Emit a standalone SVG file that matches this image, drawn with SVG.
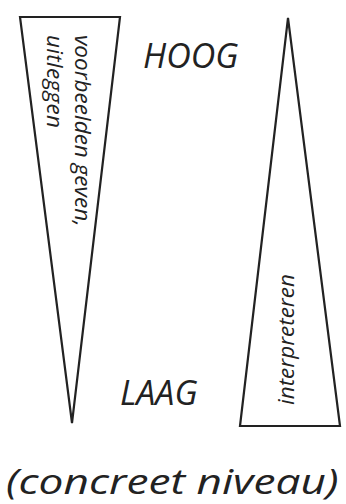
<svg xmlns="http://www.w3.org/2000/svg" width="346" height="504" viewBox="0 0 346 504">
<style>
.shape{fill:#fff;stroke:#222;stroke-width:2.2;stroke-linejoin:miter}
.t{font-family:"Open Sans","Noto Sans","DejaVu Sans",sans-serif;font-style:italic;fill:#222}
.big{font-size:34px}
.small{font-size:22.5px}
</style>
<rect width="346" height="504" fill="#fff"/>
<g id="left-shape">
<polygon class="shape" points="20,17 120,17 72,423"/>
<text class="t small" transform="translate(75,35) rotate(90)">voorbeelden geven,</text>
<text class="t small" transform="translate(47,35) rotate(90)" textLength="93" lengthAdjust="spacing">uitleggen</text>
</g>
<g id="right-shape">
<polygon class="shape" points="288,18 340,426 240,426"/>
<text class="t small" transform="translate(294,405) rotate(-90)">interpreteren</text>
</g>
<g id="hoog"><text class="t big" x="143" y="68">HOOG</text></g>
<g id="laag"><text class="t big" x="120" y="405">LAAG</text></g>
<g id="concreet"><text class="t big" transform="translate(6,494) scale(1.3,1)">(concreet niveau)</text></g>
<g id="connectors"/>
</svg>
